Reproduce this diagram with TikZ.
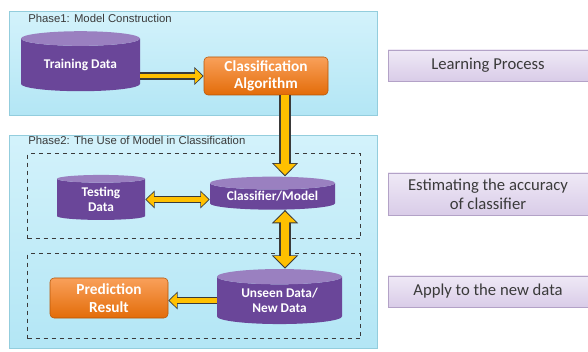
\documentclass[tikz,border=0pt]{standalone}
\usepackage{fontspec}
\setmainfont{Carlito}
\newfontfamily\phasefont{Liberation Sans}
\usetikzlibrary{shapes.geometric,arrows.meta,positioning}

\definecolor{phasetop}{HTML}{D3F2FB}
\definecolor{phasebot}{HTML}{B3E6F5}
\definecolor{phaseline}{HTML}{93CDDD}
\definecolor{cylbody}{HTML}{6A4699}
\definecolor{cylend}{HTML}{9A80C0}
\definecolor{orangetop}{HTML}{F9A05A}
\definecolor{orangebot}{HTML}{E36C09}
\definecolor{lavtop}{HTML}{EFE9F6}
\definecolor{lavbot}{HTML}{D9CCE8}
\definecolor{lavline}{HTML}{B3A2C7}
\definecolor{arrowyellow}{HTML}{FFC000}
\definecolor{arrowline}{HTML}{3A3A3A}
\definecolor{textgray}{HTML}{3A3A3A}

\begin{document}
\begin{tikzpicture}[x=0.75pt, y=-0.75pt,
    phasebox/.style={rectangle, draw=phaseline, top color=phasetop, bottom color=phasebot, anchor=north west, minimum width=276pt, inner sep=0pt},
    framebox/.style={rectangle, draw=arrowline, dashed, line width=0.8pt, anchor=north west, minimum width=249.75pt, minimum height=63.75pt, inner sep=0pt},
    datacyl/.style={cylinder, shape border rotate=90, aspect=0.2, draw=none, cylinder uses custom fill, cylinder body fill=cylbody, cylinder end fill=cylend, text=white, font=\bfseries\fontsize{10}{11.5}\selectfont, align=center, inner sep=0pt},
    orangebox/.style={rectangle, rounded corners=3pt, draw=orangebot!80!black, top color=orangetop, bottom color=orangebot, text=white, font=\bfseries\fontsize{11.5}{13}\selectfont, align=center, inner sep=0pt},
    stagebox/.style={rectangle, draw=lavline, top color=lavtop, bottom color=lavbot, text=textgray, font=\fontsize{12.5}{14}\selectfont, align=center, minimum width=150pt, inner sep=0pt},
    phaselabel/.style={anchor=west, text=textgray, font=\phasefont\fontsize{8.5}{10}\selectfont, inner sep=0pt},
    bigarrow/.style={line width=8.5pt, draw=arrowline, -{Triangle[width=19pt,length=10pt]},
      postaction={draw=arrowyellow, line width=6.5pt, -{Triangle[width=16pt,length=8.2pt]}, shorten >=1.2pt}},
    bigboth/.style={line width=8.5pt, draw=arrowline, {Triangle[width=19pt,length=10pt]}-{Triangle[width=19pt,length=10pt]},
      postaction={draw=arrowyellow, line width=6.5pt, {Triangle[width=16pt,length=8.2pt]}-{Triangle[width=16pt,length=8.2pt]}, shorten >=1.2pt, shorten <=1.2pt}},
    smallarrow/.style={line width=5.5pt, draw=arrowline, -{Triangle[width=13pt,length=7pt]},
      postaction={draw=arrowyellow, line width=3.7pt, -{Triangle[width=10.4pt,length=5.5pt]}, shorten >=1pt}},
    smallboth/.style={line width=5.5pt, draw=arrowline, {Triangle[width=13pt,length=7pt]}-{Triangle[width=13pt,length=7pt]},
      postaction={draw=arrowyellow, line width=3.7pt, {Triangle[width=10.4pt,length=5.5pt]}-{Triangle[width=10.4pt,length=5.5pt]}, shorten >=1pt, shorten <=1pt}}
]
\useasboundingbox (0,0) rectangle (588,352);

% Phase backgrounds
\node[phasebox, minimum height=78pt] (phase1) at (9,11) {};
\node[phasebox, minimum height=159.75pt] (phase2) at (9,135) {};
\node[phaselabel] (phase1label) at (28,18) {Phase1: Model Construction};
\node[phaselabel] (phase2label) at (28,140) {Phase2: The Use of Model in Classification};

% Dashed frames
\node[framebox] (testframe) at (27,153) {};
\node[framebox] (applyframe) at (27,253) {};

% Phase 1
\node[datacyl, minimum width=89.25pt, minimum height=45pt] (train) at (80.5,65) {Training Data};
\node[orangebox, minimum width=93pt, minimum height=28.5pt] (algo) at (266,76) {Classification\\Algorithm};

% Phase 2
\node[datacyl, minimum width=66pt, minimum height=33.75pt] (test) at (101,199.5) {Testing\\Data};
\node[datacyl, minimum width=93.75pt, minimum height=24.75pt, aspect=0.14] (model) at (272.5,196.5) {Classifier/Model};
\node[datacyl, minimum width=93.75pt, minimum height=41.25pt] (unseen) at (279.5,300.5) {Unseen Data/\\New Data};
\node[orangebox, minimum width=88.5pt, minimum height=30pt] (predict) at (109,298) {Prediction\\Result};

% Stages on the right
\node[stagebox, minimum height=23.25pt] (learn) at (488,65.5) {Learning Process};
\node[stagebox, minimum height=31.5pt] (estimate) at (488,194) {Estimating the accuracy\\of classifier};
\node[stagebox, minimum height=23.25pt] (apply) at (488,291.5) {Apply to the new data};

% Arrows
\coordinate (axis) at (285,0);
\draw[smallarrow] (train.east |- algo.west) -- (algo.west);
\draw[bigarrow] (algo.south -| axis) -- (model.north -| axis);
\draw[smallboth] (test.east) -- (test.east -| model.west);
\draw[bigboth] (model.south -| axis) -- (unseen.north -| axis);
\draw[smallarrow] (unseen.west) -- (unseen.west -| predict.east);
\end{tikzpicture}
\end{document}
